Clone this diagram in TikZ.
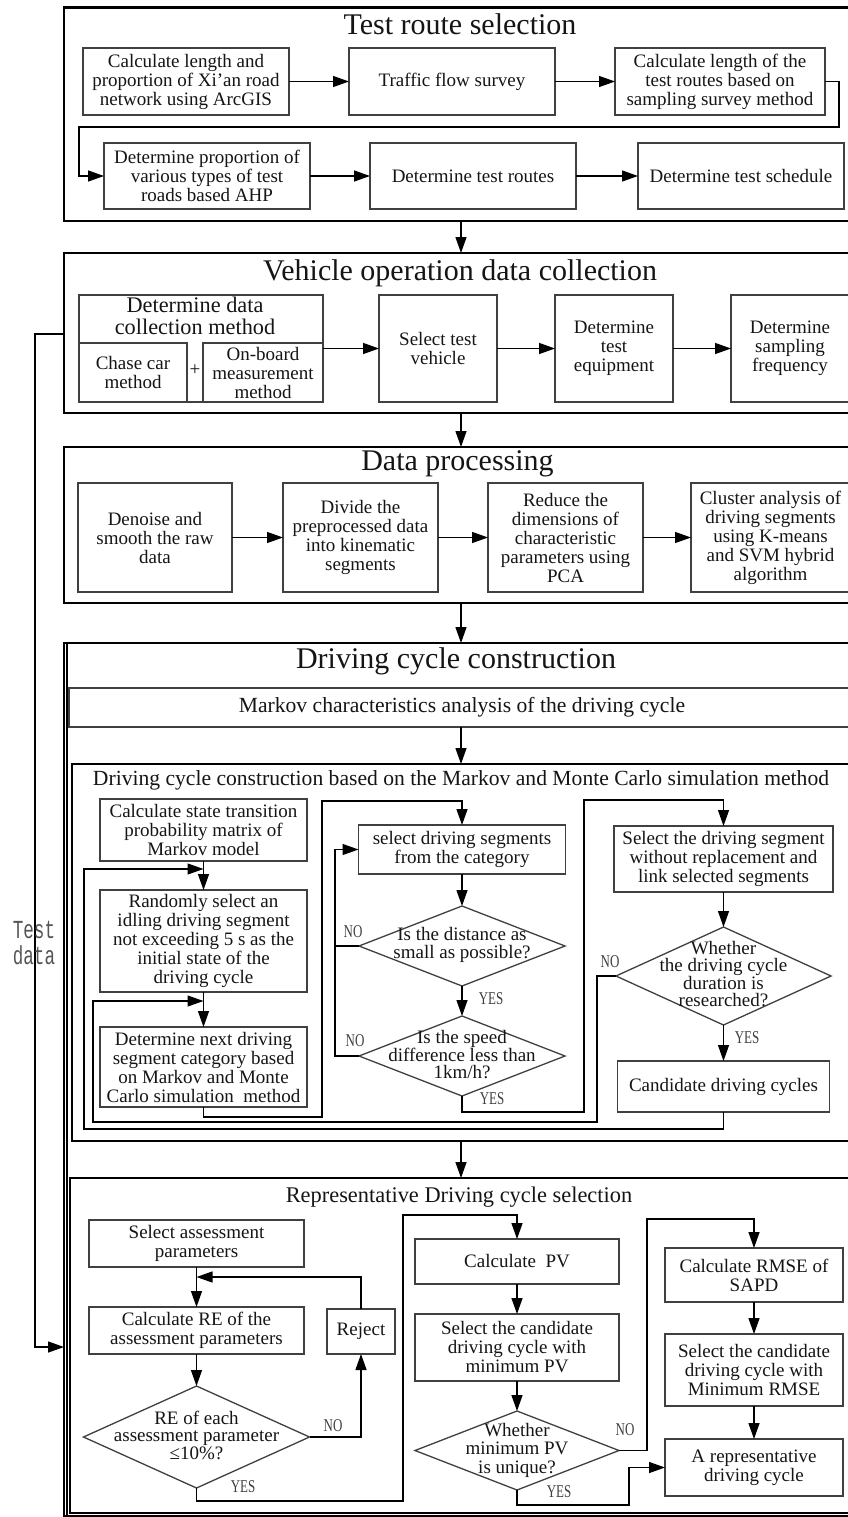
\documentclass[tikz,border=0pt]{standalone}
\usepackage{fontspec}
\setmainfont{Liberation Serif}
\newfontfamily\tdmono{Liberation Mono}
\usetikzlibrary{arrows.meta,shapes.geometric}

\definecolor{boxgray}{HTML}{404040}
\definecolor{inkgray}{HTML}{151515}
\definecolor{notegray}{HTML}{555555}

\newcommand\fbody{\fontsize{19}{19}\selectfont}
\newcommand\fdia{\fontsize{19}{17.5}\selectfont}
\newcommand\ftitle{\fontsize{30}{30}\selectfont}
\newcommand\fsub{\fontsize{21.6}{21.6}\selectfont}
\newcommand\fhead{\fontsize{22.3}{22.6}\selectfont}
\newcommand\flabel{\fontsize{18}{18}\selectfont}

\tikzset{
  box/.style={draw=boxgray, line width=1.3pt, rectangle, inner sep=0pt, outer sep=0pt,
              align=center, font=\fbody, text=inkgray},
  secbox/.style={draw=black, line width=2.3pt, rectangle, inner sep=0pt, outer sep=0pt},
  dia/.style={draw=boxgray, line width=1.3pt, diamond, inner sep=0pt, outer sep=0pt},
  diatext/.style={align=center, font=\fdia, inner sep=0pt, text=inkgray},
  arr/.style={line width=1.3pt, draw=black, -{Triangle[length=16pt,width=11pt]}},
  link/.style={line width=1.3pt, draw=black},
  lbl/.style={font=\flabel, inner sep=0pt, xscale=0.72, text=boxgray},
  ttl/.style={font=\ftitle, anchor=base, inner sep=0pt, text=inkgray},
  subttl/.style={font=\fsub, anchor=base, inner sep=0pt, text=inkgray},
  tdnote/.style={font=\tdmono\fontsize{20}{20}\selectfont, anchor=base, inner sep=0pt,
                 xscale=0.88, yscale=1.3, text=notegray},
}

\begin{document}
\begin{tikzpicture}[x=1pt,y=-1pt]
\useasboundingbox (0,0) rectangle (847,1517);
\fill[white] (0,0) rectangle (847,1517);

\coordinate (ax) at (461,0);

% ---------- Test route selection ----------
\node[secbox, minimum width=786pt, minimum height=213.5pt] (sec1) at (457,114.25) {};
\node[ttl] (sec1t) at (460,35) {Test route selection};
\node[box, minimum width=206pt, minimum height=67pt] (b11) at (186,81.5)
  {Calculate length and\\proportion of Xi’an road\\network using ArcGIS};
\node[box, minimum width=206pt, minimum height=67pt] (b12) at (452,81.5) {Traffic flow survey};
\node[box, minimum width=210pt, minimum height=67pt] (b13) at (720,81.5)
  {Calculate length of the\\test routes based on\\sampling survey method};
\node[box, minimum width=206pt, minimum height=66pt] (b14) at (207,176)
  {Determine proportion of\\various types of test\\roads based AHP};
\node[box, minimum width=206pt, minimum height=66pt] (b15) at (473,176) {Determine test routes};
\node[box, minimum width=206pt, minimum height=66pt] (b16) at (741,176) {Determine test schedule};
\coordinate (t1) at (839,127);
\coordinate (t2) at (79,127);
\draw[arr] (b11) -- (b12);
\draw[arr] (b12) -- (b13);
\draw[arr] (b13.east) -| (t1) -- (t2) |- (b14.west);
\draw[arr] (b14) -- (b15);
\draw[arr] (b15) -- (b16);

% ---------- Vehicle operation data collection ----------
\node[secbox, minimum width=786pt, minimum height=160pt] (sec2) at (457,333) {};
\node[ttl] (sec2t) at (460,280) {Vehicle operation data collection};
\node[box, minimum width=244pt, minimum height=107pt] (dcm) at (201,348.5) {};
\node[align=center, font=\fhead, inner sep=0pt, text=inkgray] (dcmt) at (195,316)
  {Determine data\\collection method};
\node[box, minimum width=108pt, minimum height=59pt] (cc) at (133,372.5) {Chase car\\method};
\node[box, minimum width=120pt, minimum height=59pt] (ob) at (263,372.5)
  {On-board\\measurement\\method};
\node[font=\fbody, inner sep=0pt, text=inkgray] (plus) at (195,370) {+};
\node[box, minimum width=118pt, minimum height=107pt] (b22) at (438,348.5) {Select test\\vehicle};
\node[box, minimum width=118pt, minimum height=107pt] (b23) at (614,348.5) {Determine\\test\\equipment};
\node[box, minimum width=118pt, minimum height=107pt] (b24) at (790,348.5) {Determine\\sampling\\frequency};
\draw[arr] (dcm.east) -- (b22.west);
\draw[arr] (b22) -- (b23);
\draw[arr] (b23) -- (b24);

% ---------- Data processing ----------
\node[secbox, minimum width=786pt, minimum height=156pt] (sec3) at (457,525) {};
\node[ttl] (sec3t) at (457.5,470) {Data processing};
\node[box, minimum width=154pt, minimum height=109pt] (b31) at (155,537.5)
  {Denoise and\\smooth the raw\\data};
\node[box, minimum width=155pt, minimum height=109pt] (b32) at (360.5,537.5)
  {Divide the\\preprocessed data\\into kinematic\\segments};
\node[box, minimum width=155pt, minimum height=109pt] (b33) at (565.5,537.5)
  {Reduce the\\dimensions of\\characteristic\\parameters using\\PCA};
\node[box, minimum width=159pt, minimum height=109pt] (b34) at (770.5,537.5)
  {Cluster analysis of\\driving segments\\using K-means\\and SVM hybrid\\algorithm};
\draw[arr] (b31) -- (b32);
\draw[arr] (b32) -- (b33);
\draw[arr] (b33) -- (b34);

% ---------- Driving cycle construction ----------
\node[secbox, minimum width=786pt, minimum height=873pt] (sec4) at (457,1079.5) {};
\draw[line width=1.3pt] ([xshift=3pt]sec4.north west) -- ([xshift=3pt]sec4.south west);
\node[ttl] (sec4t) at (456,668) {Driving cycle construction};
\node[box, font=\fsub, minimum width=786pt, minimum height=39pt] (mkv) at (462,707.5)
  {Markov characteristics analysis of the driving cycle};

% Markov and Monte Carlo construction block
\node[secbox, minimum width=778pt, minimum height=377pt] (mmc) at (461,952.5) {};
\node[subttl] (mmct) at (461,785)
  {Driving cycle construction based on the Markov and Monte Carlo simulation method};

\node[box, minimum width=207pt, minimum height=62pt] (c1) at (203.5,830)
  {Calculate state transition\\probability matrix of\\Markov model};
\node[box, minimum width=207pt, minimum height=102pt] (c2) at (203.5,941)
  {Randomly select an\\idling driving segment\\not exceeding 5 s as the\\initial state of the\\driving cycle};
\node[box, minimum width=207pt, minimum height=80pt] (c3) at (203.5,1067)
  {Determine next driving\\segment category based\\on Markov and Monte\\Carlo simulation\ \ method};

\node[box, minimum width=207pt, minimum height=49pt] (d1) at (462,849.5)
  {select driving segments\\from the category};
\node[dia, minimum width=206pt, minimum height=80pt] (q1) at (462,946) {};
\node[diatext] (q1t) at (462,945) {Is the distance as\\small as possible?};
\node[dia, minimum width=206pt, minimum height=80pt] (q2) at (462,1056) {};
\node[diatext] (q2t) at (462,1055) {Is the speed\\difference less than\\1km/h?};

\node[box, minimum width=219pt, minimum height=66pt] (s1) at (723.5,859)
  {Select the driving segment\\without replacement and\\link selected segments};
\node[dia, minimum width=215pt, minimum height=98pt] (q3) at (723.5,976) {};
\node[diatext] (q3t) at (723.5,974) {Whether\\the driving cycle\\duration is\\researched?};
\node[box, minimum width=212pt, minimum height=51pt] (cand) at (723.5,1086.5)
  {Candidate driving cycles};

\coordinate (j1) at (203.5,869);
\coordinate (j2) at (203.5,1001);
\coordinate (lp1) at (322,1117);
\coordinate (lp2) at (322,801);
\coordinate (nb) at (335,0);
\coordinate (y1) at (584,1112);
\coordinate (y2) at (584,800);
\coordinate (n3) at (597,1122);
\coordinate (n3b) at (93,1122);
\coordinate (k2) at (84,1129);

\draw[arr] (mkv.south -| ax) -- (mmc.north -| ax);
\draw[arr] (c1) -- (c2);
\draw[arr] (c2) -- (c3);
\draw[arr] (c3.south) |- (lp1) -- (lp2) -| (d1.north);
\draw[arr] (d1) -- (q1);
\draw[arr] (q1) -- (q2);
\draw[arr] (q1.west) -- (q1.west -| nb) |- (d1.west);
\draw[link] (q2.west) -- (q2.west -| nb) -- (q1.west -| nb);
\draw[arr] (q2.south) |- (y1) -- (y2) -| (s1.north);
\draw[arr] (s1) -- (q3);
\draw[arr] (q3) -- (cand);
\draw[arr] (q3.west) -| (n3) -- (n3b) |- (j2);
\draw[arr] (cand.south) |- (k2) |- (j1);

\node[lbl] (lq1n) at (353,932) {NO};
\node[lbl] (lq2n) at (355,1041) {NO};
\node[lbl] (lq1y) at (491,999) {YES};
\node[lbl] (lq2y) at (492,1099) {YES};
\node[lbl] (lq3n) at (610,962) {NO};
\node[lbl] (lq3y) at (747,1038) {YES};

% Representative driving cycle selection block
\node[secbox, minimum width=780pt, minimum height=335pt] (rep) at (460,1345.5) {};
\node[subttl, font=\fontsize{22.4}{22.4}\selectfont] (rept) at (459,1202)
  {Representative Driving cycle selection};
\draw[arr] (mmc.south -| ax) -- (rep.north -| ax);

\node[box, minimum width=215pt, minimum height=47pt] (r1) at (196.5,1243.5)
  {Select assessment\\parameters};
\node[box, minimum width=215pt, minimum height=47pt] (r2) at (196.5,1330.5)
  {Calculate RE of the\\assessment parameters};
\node[box, minimum width=68pt, minimum height=45pt] (rej) at (361,1331.5) {Reject};
\node[dia, minimum width=226pt, minimum height=102pt] (rq) at (196.5,1437) {};
\node[diatext] (rqt) at (196.5,1435) {RE of each\\assessment parameter\\≤10\%?};

\node[box, minimum width=204pt, minimum height=45pt] (p1) at (517,1261.5) {Calculate\ \ PV};
\node[box, minimum width=204pt, minimum height=67pt] (p2) at (517,1347.5)
  {Select the candidate\\driving cycle with\\minimum PV};
\node[dia, minimum width=204pt, minimum height=79pt] (pq) at (517,1450.5) {};
\node[diatext, font=\fontsize{19}{18.5}\selectfont] (pqt) at (517,1450) {Whether\\minimum PV\\is unique?};

\node[box, minimum width=178pt, minimum height=54pt] (m1) at (754,1275)
  {Calculate RMSE of\\SAPD};
\node[box, minimum width=178pt, minimum height=72pt] (m2) at (754,1370)
  {Select the candidate\\driving cycle with\\Minimum RMSE};
\node[box, minimum width=178pt, minimum height=57pt] (a1) at (754,1467.5)
  {A representative\\driving cycle};

\coordinate (rj) at (196.5,1277);
\coordinate (ry1) at (403,1501);
\coordinate (ry2) at (403,1215);
\coordinate (pn2) at (647,1219);
\coordinate (py1) at (629,1505);

\draw[arr] (r1) -- (r2);
\draw[arr] (r2) -- (rq);
\draw[arr] (rej.north) |- (rj);
\draw[arr] (rq.east) -| (rej.south);
\draw[arr] (rq.south) |- (ry1) -- (ry2) -| (p1.north);
\draw[arr] (p1) -- (p2);
\draw[arr] (p2) -- (pq);
\draw[arr] (pq.east) -| (pn2) -| (m1.north);
\draw[arr] (pq.south) |- (py1) |- (a1.west);
\draw[arr] (m1) -- (m2);
\draw[arr] (m2) -- (a1);

\node[lbl] (lrqn) at (333,1426) {NO};
\node[lbl] (lrqy) at (243,1487) {YES};
\node[lbl] (lpqn) at (625,1430) {NO};
\node[lbl] (lpqy) at (559,1492) {YES};

% ---------- links between the stages ----------
\draw[arr] (sec1.south -| ax) -- (sec2.north -| ax);
\draw[arr] (sec2.south -| ax) -- (sec3.north -| ax);
\draw[arr] (sec3.south -| ax) -- (sec4.north -| ax);

% test data feed
\coordinate (td1) at (35,334);
\coordinate (td2) at (0,1347);
\draw[arr] (sec2.west |- td1) -- (td1) |- (sec4.west |- td2);
\node[tdnote] (tdl1) at (34,938) {Test};
\node[tdnote] (tdl2) at (34,964) {data};

\end{tikzpicture}
\end{document}
